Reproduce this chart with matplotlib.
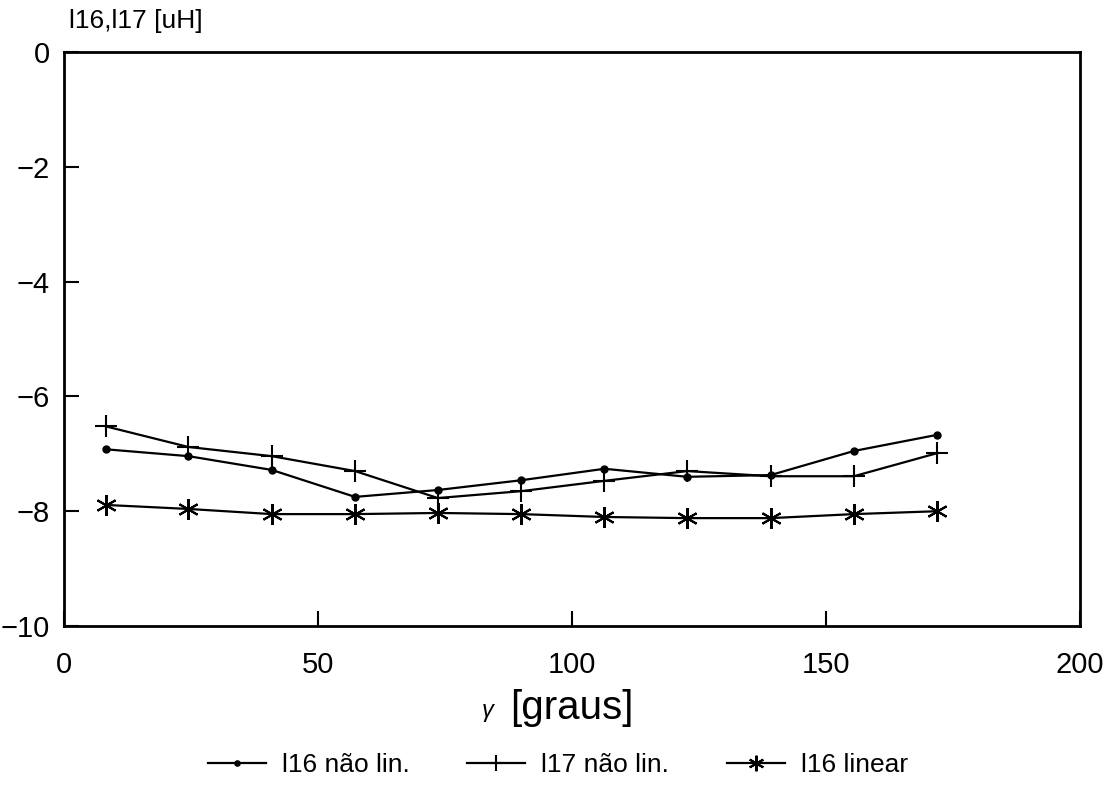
import numpy as np
import matplotlib
matplotlib.use('Agg')
from matplotlib import pyplot as plt

gamma = [8.2, 24.5, 40.9, 57.3, 73.6, 90.0, 106.4, 122.7, 139.1, 155.5, 171.8]
l16_nao_lin = [-6.92, -7.04, -7.28, -7.75, -7.63, -7.46, -7.26, -7.40, -7.37, -6.95, -6.67]
l17_nao_lin = [-6.52, -6.88, -7.04, -7.30, -7.77, -7.65, -7.47, -7.30, -7.39, -7.39, -6.99]
l16_linear = [-7.89, -7.96, -8.05, -8.05, -8.03, -8.05, -8.10, -8.12, -8.12, -8.05, -8.00]

plt.rcParams['font.family'] = ['Liberation Sans', 'DejaVu Sans']

fig = plt.figure(figsize=(11.16, 7.91), dpi=100)
ax = fig.add_axes([0.0573, 0.2086, 0.9104, 0.7254])

ax.plot(gamma, l16_nao_lin, color='black', lw=1.6, marker='o', ms=5, label='l16 não lin.')
ax.plot(gamma, l17_nao_lin, color='black', lw=1.6, marker='+', ms=16, mew=1.5, label='l17 não lin.')
ax.plot(gamma, l16_linear, color='black', lw=1.6, marker=(6, 2, 0), ms=15, mew=1.5, label='l16 linear')

ax.set_xlim(0, 200)
ax.set_ylim(-10, 0)
ax.set_xticks([0, 50, 100, 150, 200])
ax.set_yticks([0, -2, -4, -6, -8, -10])
ax.tick_params(direction='in', length=11, width=1.5, labelsize=21)
ax.tick_params(axis='x', pad=18)
ax.tick_params(axis='y', pad=10)
for s in ax.spines.values():
    s.set_linewidth(2)

# x label: small gamma followed by [graus]
fig.text(0.437, 0.102, 'γ', fontsize=17, style='italic', ha='center', va='center')
fig.text(0.5125, 0.105, '[graus]', fontsize=29, ha='center', va='center')
fig.text(0.062, 0.973, 'l16,l17 [uH]', fontsize=19, ha='left', va='center')

fig.legend(loc='center', bbox_to_anchor=(0.5, 0.033), ncol=3, frameon=False,
           fontsize=19, handlelength=2.2, handletextpad=0.6, columnspacing=2.2,
           markerscale=0.75)

plt.savefig('out.png', dpi=100)
